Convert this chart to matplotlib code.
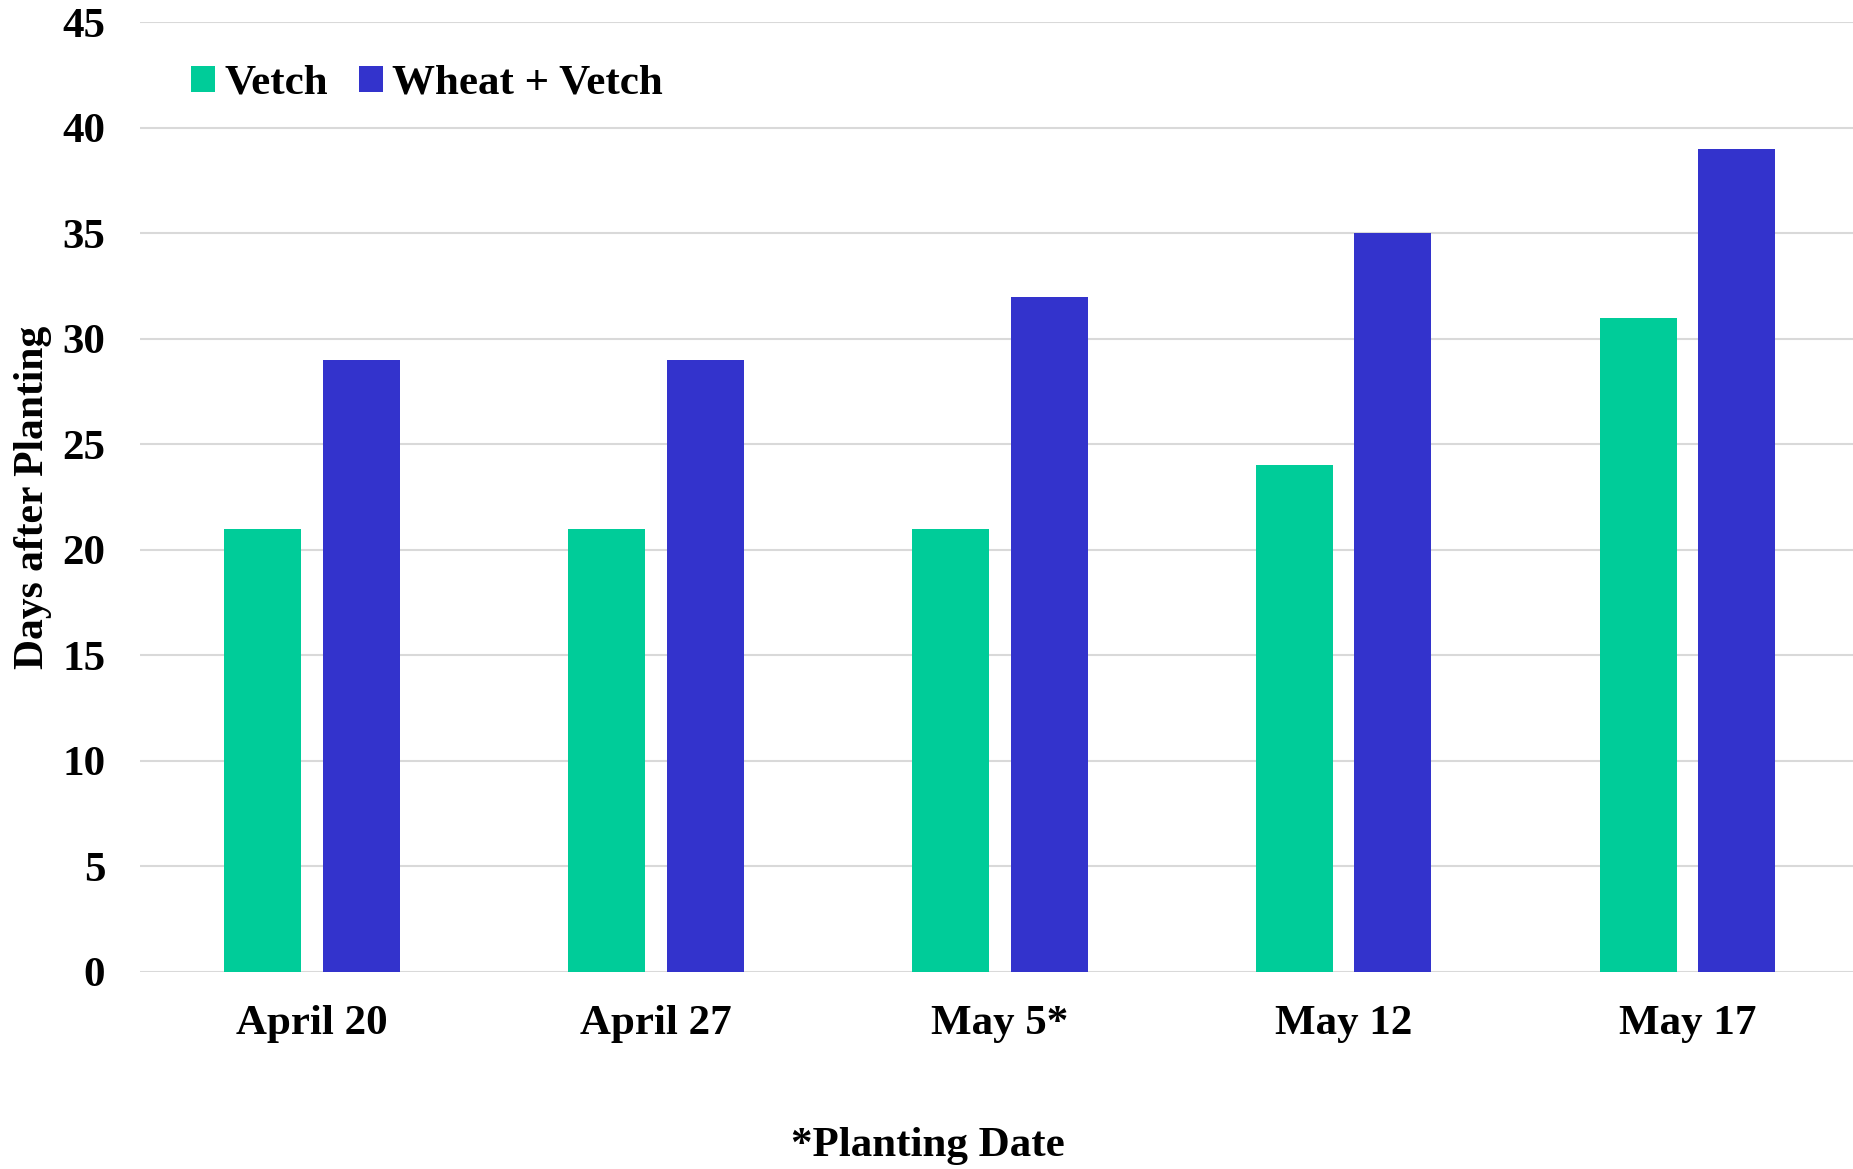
import matplotlib
matplotlib.use("Agg")
import matplotlib.pyplot as plt
import numpy as np

categories = ["April 20", "April 27", "May 5*", "May 12", "May 17"]
vetch = [21, 21, 21, 24, 31]
wheat_vetch = [29, 29, 32, 35, 39]
yticks = [0, 5, 10, 15, 20, 25, 30, 35, 40, 45]

plt.rcParams['font.family'] = ['Liberation Serif', 'DejaVu Serif']
plt.rcParams['font.weight'] = 'bold'

fig = plt.figure(figsize=(18.53, 11.69), dpi=100)
ax = fig.add_axes([0.0756, 0.1689, 0.928, 0.8119])

x = np.arange(len(categories))
w = 0.224
off = 0.143
ax.bar(x - off, vetch, w, color='#00CC99', label='Vetch', zorder=3)
ax.bar(x + off, wheat_vetch, w, color='#3333CC', label='Wheat + Vetch', zorder=3)

ax.set_xlim(-0.5, len(categories) - 0.5)
ax.set_ylim(0, 45)
ax.set_yticks(yticks)
ax.set_yticklabels([str(t) for t in yticks], fontsize=31, fontweight='bold')
ax.set_xticks(x)
ax.set_xticklabels(categories, fontsize=31, fontweight='bold')
ax.tick_params(axis='y', length=0, pad=25)
ax.tick_params(axis='x', length=0, pad=24)
ax.yaxis.grid(True, color='#D9D9D9', linewidth=1.5, zorder=0)
ax.set_axisbelow(True)
for s in ax.spines.values():
    s.set_visible(False)

ax.set_ylabel('Days after Planting', fontsize=30, fontweight='bold')
ax.yaxis.set_label_coords(-0.051, 0.5)
fig.text(0.501, 0.02, '*Planting Date', fontsize=31, fontweight='bold', ha='center', va='center')

leg = ax.legend(loc='upper left', bbox_to_anchor=(0.0072, 0.996), ncol=2, frameon=False,
                handlelength=0.55, handleheight=0.55, handletextpad=0.22,
                columnspacing=0.72, prop={'weight': 'bold', 'size': 31})

fig.savefig('out.png', dpi=100)
